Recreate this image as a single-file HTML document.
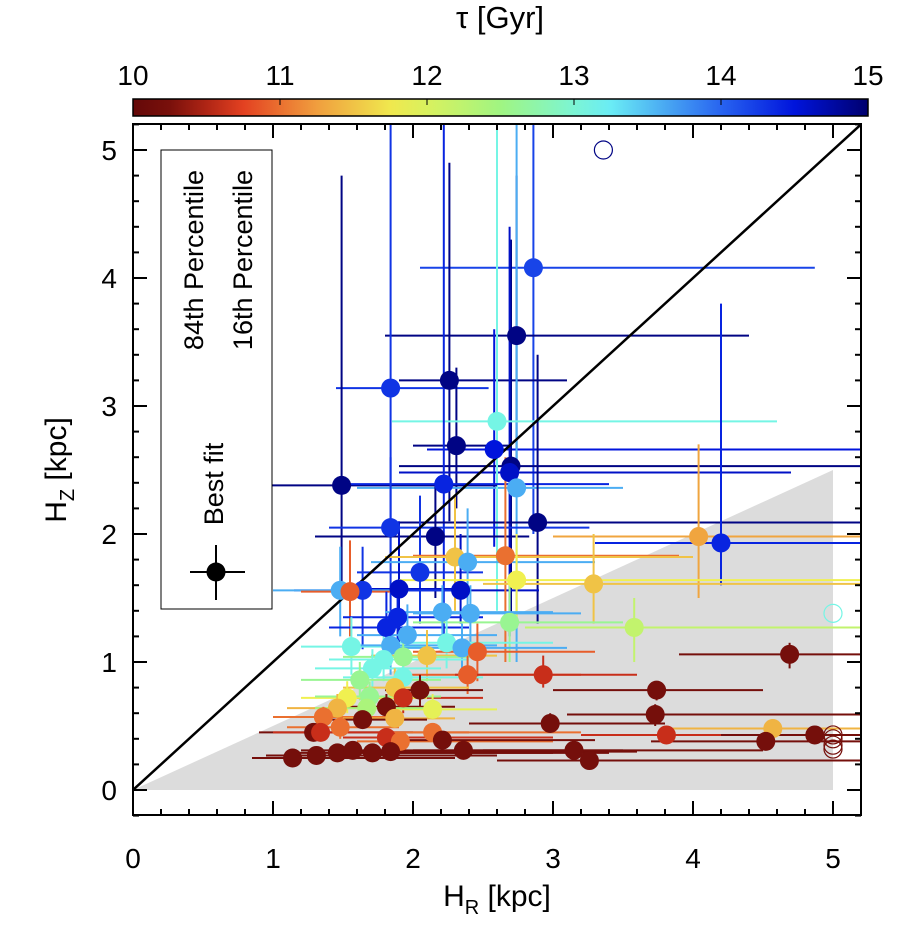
<!DOCTYPE html>
<html><head><meta charset="utf-8"><style>
html,body{margin:0;padding:0;background:#fff;}
svg{display:block;font-family:"Liberation Sans",sans-serif;}
</style></head><body>
<svg id="chart" width="902" height="930" viewBox="0 0 902 930" xmlns="http://www.w3.org/2000/svg"></svg>
<script>
// data: HR, HZ, tau, xlo, xhi, ylo, yhi
const hrVals=[2.86,2.74,1.84,2.26,2.31,2.58,2.70,2.69,2.74,2.60,1.49,2.22,2.89,1.84,2.16,4.2,4.04,2.05,2.34,1.90,1.64,1.48,1.55,2.66,2.30,2.39,2.74,3.29,3.58,2.69,1.89,1.81,1.96,2.21,2.41,1.56,1.84,2.24,2.35,2.46,2.1,1.93,1.79,1.71,2.39,2.93,1.62,1.93,2.05,1.87,1.93,1.53,1.69,2.14,1.46,1.81,1.67,1.36,1.87,1.64,1.48,1.29,1.34,1.81,1.91,2.14,2.21,2.36,1.14,1.31,1.46,1.57,1.71,1.84,2.98,4.69,3.74,3.73,3.81,3.15,3.26,4.57,4.52,4.87];
const hzVals=[4.08,3.55,3.14,3.2,2.69,2.66,2.53,2.48,2.36,2.88,2.38,2.39,2.09,2.05,1.98,1.93,1.98,1.7,1.56,1.57,1.56,1.56,1.55,1.83,1.82,1.78,1.64,1.61,1.27,1.31,1.35,1.27,1.21,1.39,1.38,1.12,1.13,1.15,1.11,1.08,1.05,1.04,1.02,0.95,0.9,0.9,0.86,0.88,0.78,0.8,0.72,0.72,0.73,0.63,0.64,0.65,0.64,0.57,0.56,0.55,0.49,0.45,0.45,0.41,0.38,0.45,0.39,0.31,0.25,0.27,0.29,0.31,0.29,0.30,0.52,1.06,0.78,0.59,0.43,0.31,0.23,0.48,0.38,0.43];
const tauVals=[14.2,14.9,14.3,14.9,14.9,14.5,14.9,14.6,13.6,13.1,14.9,14.4,14.9,14.3,14.9,14.4,11.3,14.3,14.6,14.6,14.3,13.6,10.9,11.0,11.5,13.6,11.8,11.5,12.2,12.6,14.4,14.4,13.6,13.6,13.6,13.1,13.6,13.1,13.6,10.9,11.5,12.6,13.1,13.1,10.9,10.6,12.6,13.1,10.2,11.5,10.6,11.8,12.6,11.9,11.4,10.2,12.4,11.0,11.4,10.2,11.0,10.2,10.6,10.6,11.0,11.0,10.2,10.2,10.2,10.2,10.2,10.2,10.2,10.2,10.2,10.2,10.2,10.2,10.6,10.2,10.2,11.4,10.2,10.2];
const xLo=[2.05,1.8,1.45,1.9,2.0,2.1,1.9,1.9,1.6,1.85,0.95,1.55,1.8,1.4,1.3,3.3,3.0,1.6,1.9,1.5,1.15,1.0,1.2,2.0,1.8,1.7,1.9,2.5,2.8,2.0,1.5,1.4,1.6,1.8,2.0,1.2,1.5,1.8,1.9,2.0,1.7,1.5,1.4,1.3,1.9,2.3,1.2,1.5,1.8,1.5,1.6,1.2,1.3,1.8,1.1,1.5,1.3,1.0,1.5,1.3,1.1,0.9,1.0,1.5,1.6,1.8,1.9,2.0,0.85,0.95,1.1,1.2,1.4,1.5,2.4,3.9,3.0,3.1,3.2,2.5,2.6,3.8,3.7,4.2];
const xHi=[4.87,4.4,2.54,3.1,2.7,5.2,5.2,4.7,3.5,4.6,2.6,3.4,5.2,3.26,2.83,5.2,5.2,2.5,2.9,2.4,2.3,1.9,1.9,3.9,4.0,3.3,5.2,5.2,5.2,3.5,2.5,2.4,2.6,3.0,3.2,2.1,2.6,3.0,3.1,3.3,2.6,2.5,2.4,2.2,3.2,3.6,2.2,2.5,2.5,2.4,2.5,2.1,2.2,2.6,2.0,2.3,2.2,1.9,2.3,2.1,1.9,2.0,2.4,3.0,3.0,3.2,3.3,3.5,2.3,2.6,3.0,3.2,3.4,3.6,3.8,5.2,4.5,5.2,5.2,4.5,5.2,5.2,5.2,5.2];
const yLo=[2.0,2.3,1.8,2.1,2.2,1.9,1.3,1.2,1.0,1.4,1.6,1.2,1.3,1.0,1.5,1.6,1.5,1.3,1.3,1.1,1.1,1.2,1.2,1.0,1.4,1.4,1.3,1.3,1.0,1.0,1.1,1.0,1.0,1.1,1.1,0.9,0.9,0.95,0.85,0.85,0.85,0.85,0.85,0.8,0.75,0.8,0.7,0.75,0.65,0.65,0.6,0.6,0.6,0.55,0.55,0.55,0.55,0.5,0.5,0.5,0.4,0.4,0.4,0.35,0.32,0.38,0.32,0.25,0.2,0.22,0.24,0.26,0.24,0.25,0.45,0.95,0.7,0.5,0.38,0.26,0.19,0.4,0.33,0.38];
const yHi=[5.2,4.8,5.2,4.9,3.3,3.6,4.3,4.4,5.2,5.2,4.8,5.2,3.4,2.6,2.4,3.8,2.7,2.3,2.0,2.1,1.9,1.9,1.95,2.6,2.3,2.2,2.0,2.0,1.5,1.6,1.6,1.55,1.45,1.6,1.6,1.35,1.4,1.35,1.3,1.3,1.25,1.25,1.2,1.1,1.05,1.05,1.0,1.05,0.9,0.95,0.85,0.85,0.85,0.75,0.75,0.75,0.75,0.65,0.65,0.65,0.58,0.52,0.52,0.48,0.45,0.52,0.45,0.36,0.3,0.32,0.34,0.36,0.34,0.35,0.6,1.15,0.85,0.67,0.5,0.36,0.28,0.55,0.44,0.49];
const openHr=[3.36,5.0,5.0,5.0,5.0,5.0];
const openHz=[5.0,1.38,0.43,0.40,0.35,0.32];
const openTau=[14.9,13.1,10.2,10.2,10.2,10.2];
const xTicks=[0,1,2,3,4,5];
const yTicks=[0,1,2,3,4,5];
const cbTicks=[10,11,12,13,14,15];

const NS="http://www.w3.org/2000/svg";
const svg=document.getElementById('chart');
const X0=133,X1=861,Y0=790;
const sx=v=>X0+v*140, sy=v=>Y0-v*128;
const cx=t=>133+(t-10)*147;
function el(tag,a,parent){const e=document.createElementNS(NS,tag);for(const k in a)e.setAttribute(k,a[k]);(parent||svg).appendChild(e);return e;}
const stops=[[10,[100,8,8]],[10.3,[125,18,12]],[10.7,[225,55,30]],[11.2,[240,150,60]],[11.8,[240,240,80]],[12.5,[160,245,130]],[13.2,[110,245,245]],[14.0,[40,100,240]],[14.5,[0,20,220]],[15,[0,0,110]]];
function col(t){t=Math.max(10,Math.min(15,t));for(let i=0;i<stops.length-1;i++){const[a,ca]=stops[i],[b,cb]=stops[i+1];if(t<=b){const f=(t-a)/(b-a);return 'rgb('+ca.map((c,j)=>Math.round(c+(cb[j]-c)*f)).join(',')+')';}}return 'rgb(0,0,110)';}

const defs=el('defs',{});
const cp=el('clipPath',{id:'clip'},defs);el('rect',{x:X0,y:124,width:X1-X0,height:691},cp);
const grad=el('linearGradient',{id:'cbg',x1:0,x2:1,y1:0,y2:0},defs);
for(let i=0;i<=20;i++){const t=10+i*0.25;el('stop',{offset:(i/20),'stop-color':col(t)},grad);}

const gray=el('polygon',{points:`${sx(0)},${sy(0)} ${sx(5)},${sy(2.5)} ${sx(5)},${sy(0)}`,fill:'#dcdcdc'});



const g=el('g',{'clip-path':'url(#clip)'});


for(let i=0;i<hrVals.length;i++){
  const c=col(tauVals[i]);
  const h=el('line',{x1:sx(xLo[i]),x2:sx(xHi[i]),y1:sy(hzVals[i]),y2:sy(hzVals[i]),stroke:c,'stroke-width':2},g);
  
  
  const v=el('line',{x1:sx(hrVals[i]),x2:sx(hrVals[i]),y1:sy(yLo[i]),y2:sy(yHi[i]),stroke:c,'stroke-width':2},g);
  
  
}
const dl=el('line',{x1:sx(0),y1:sy(0),x2:sx(5.2),y2:sy(5.2),stroke:'#000','stroke-width':2.5},g);


for(let i=0;i<hrVals.length;i++){
  const p=el('circle',{cx:sx(hrVals[i]),cy:sy(hzVals[i]),r:9.5,fill:col(tauVals[i])},g);
  
  
}
for(let i=0;i<openHr.length;i++){
  const p=el('circle',{cx:sx(openHr[i]),cy:sy(openHz[i]),r:9,fill:'none',stroke:col(openTau[i]),'stroke-width':1.2});
  
  
}
const fr=el('rect',{x:X0,y:124,width:X1-X0,height:691,fill:'none',stroke:'#000','stroke-width':2});


for(let v=0;v<=5.2001;v+=0.2){const major=Math.abs(v-Math.round(v))<1e-6;const L=major?14:6;const x=sx(v);
 el('line',{x1:x,x2:x,y1:815,y2:815-L,stroke:'#000','stroke-width':2});el('line',{x1:x,x2:x,y1:124,y2:124+L,stroke:'#000','stroke-width':2});}
for(let v=-0.2;v<=5.2001;v+=0.2){const major=Math.abs(v-Math.round(v))<1e-6;const L=major?14:6;const y=sy(v);
 el('line',{x1:X0,x2:X0+L,y1:y,y2:y,stroke:'#000','stroke-width':2});el('line',{x1:X1,x2:X1-L,y1:y,y2:y,stroke:'#000','stroke-width':2});}
xTicks.forEach(v=>{const t=el('text',{x:sx(v),y:868,'font-size':28,'text-anchor':'middle'});t.textContent=v;
 });
yTicks.forEach(v=>{const t=el('text',{x:117,y:sy(v)+10,'font-size':28,'text-anchor':'end'});t.textContent=v;
 });
const xt=el('text',{x:497,y:906,'font-size':30,'text-anchor':'middle'});
xt.innerHTML='H<tspan font-size="20" dy="8">R</tspan><tspan dy="-8"> [kpc]</tspan>';

const yt=el('text',{transform:'translate(66,470) rotate(-90)','font-size':30,'text-anchor':'middle'});
yt.innerHTML='H<tspan font-size="20" dy="8">Z</tspan><tspan dy="-8"> [kpc]</tspan>';

const cb=el('rect',{x:133,y:99,width:735,height:17,fill:'url(#cbg)',stroke:'#000','stroke-width':1.5});

cbTicks.forEach(v=>{el('line',{x1:cx(v),x2:cx(v),y1:99,y2:105,stroke:'#000','stroke-width':1});
 const t=el('text',{x:cx(v),y:85,'font-size':28,'text-anchor':'middle'});t.textContent=v;
 });
const ct=el('text',{x:500,y:28,'font-size':31,'text-anchor':'middle'});ct.textContent='τ [Gyr]';

const lg=el('g',{});

el('rect',{x:161,y:150,width:111,height:459,fill:'#fff',stroke:'#000','stroke-width':1},lg);
el('line',{x1:190,x2:245,y1:572,y2:572,stroke:'#000','stroke-width':2},lg);
el('line',{x1:216,x2:216,y1:545,y2:600,stroke:'#000','stroke-width':2},lg);
el('circle',{cx:216,cy:572,r:9.5,fill:'#000'},lg);
const l1=el('text',{transform:'translate(223,484) rotate(-90)','font-size':27,'text-anchor':'middle'},lg);l1.textContent='Best fit';
const l2=el('text',{transform:'translate(203,260) rotate(-90)','font-size':27,'text-anchor':'middle'},lg);l2.textContent='84th Percentile';
const l3=el('text',{transform:'translate(252,260) rotate(-90)','font-size':27,'text-anchor':'middle'},lg);l3.textContent='16th Percentile';
</script>
</body></html>
